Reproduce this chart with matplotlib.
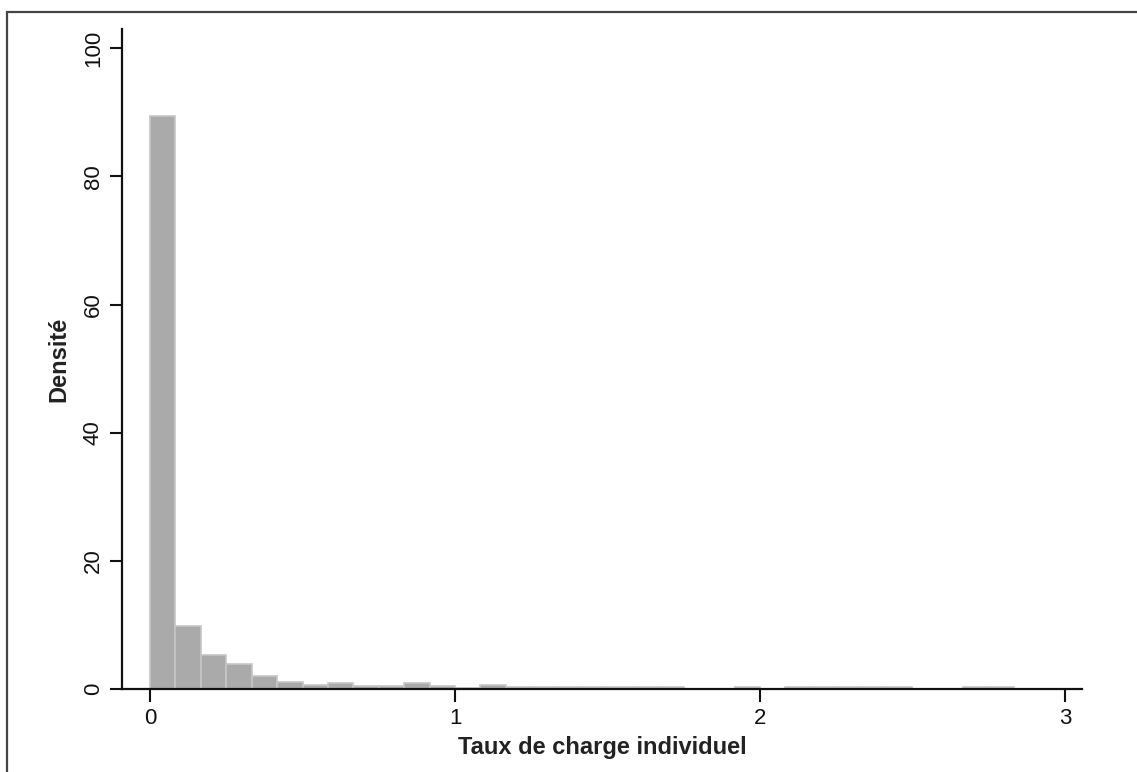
import matplotlib
matplotlib.use("Agg")
import matplotlib.pyplot as plt
from matplotlib.patches import Rectangle
import numpy as np

plt.rcParams['font.family'] = ['Liberation Sans', 'DejaVu Sans']

bin_width = 1 / 12
n_bins = 34
densities = [89.4, 9.8, 5.3, 3.9, 2.0, 1.1, 0.6, 0.9, 0.5, 0.5, 0.9, 0.5,
             0.2, 0.6, 0.3, 0.3, 0.3, 0.3, 0.3, 0.3, 0.3, 0.0, 0.0, 0.3,
             0.0, 0.3, 0.3, 0.3, 0.3, 0.3, 0.0, 0.0, 0.3, 0.3]
x_ticks = [0, 1, 2, 3]
y_ticks = [0, 20, 40, 60, 80, 100]
x_label = "Taux de charge individuel"
y_label = "Densité"

W, H = 1137, 772
fig = plt.figure(figsize=(W / 100, H / 100), dpi=100)
ax = fig.add_axes([122 / W, 1 - 689 / H, (1082 - 122) / W, (689 - 29) / H])

lefts = np.arange(n_bins) * bin_width
ax.bar(lefts, densities, width=bin_width, align='edge',
       color='#aaaaaa', edgecolor='#c6c6c6', linewidth=1.2)

ax.set_xlim(-0.092, 3.056)
ax.set_ylim(0, 103)
ax.set_xticks(x_ticks)
ax.set_yticks(y_ticks)
ax.set_yticklabels([str(v) for v in y_ticks], rotation=90, va='center')
ax.tick_params(axis='both', direction='out', length=9, width=1.5,
               labelsize=16, color='#111111', labelcolor='#111111', pad=4)
ax.tick_params(axis='x', pad=5)
for s in ['top', 'right']:
    ax.spines[s].set_visible(False)
for s in ['left', 'bottom']:
    ax.spines[s].set_linewidth(1.6)
    ax.spines[s].set_color('#111111')

ax.set_xlabel(x_label, fontsize=17, fontweight='bold', color='#222222', labelpad=5)
ax.set_ylabel(y_label, fontsize=17, fontweight='bold', color='#222222', labelpad=9)

# outer frame
fig.patches.append(Rectangle((7 / W, -0.2), 1.5, 1 - 12 / H + 0.2,
                             transform=fig.transFigure, fill=False,
                             edgecolor='#444444', linewidth=1.6))

fig.savefig("out.png", dpi=100, facecolor='white')
